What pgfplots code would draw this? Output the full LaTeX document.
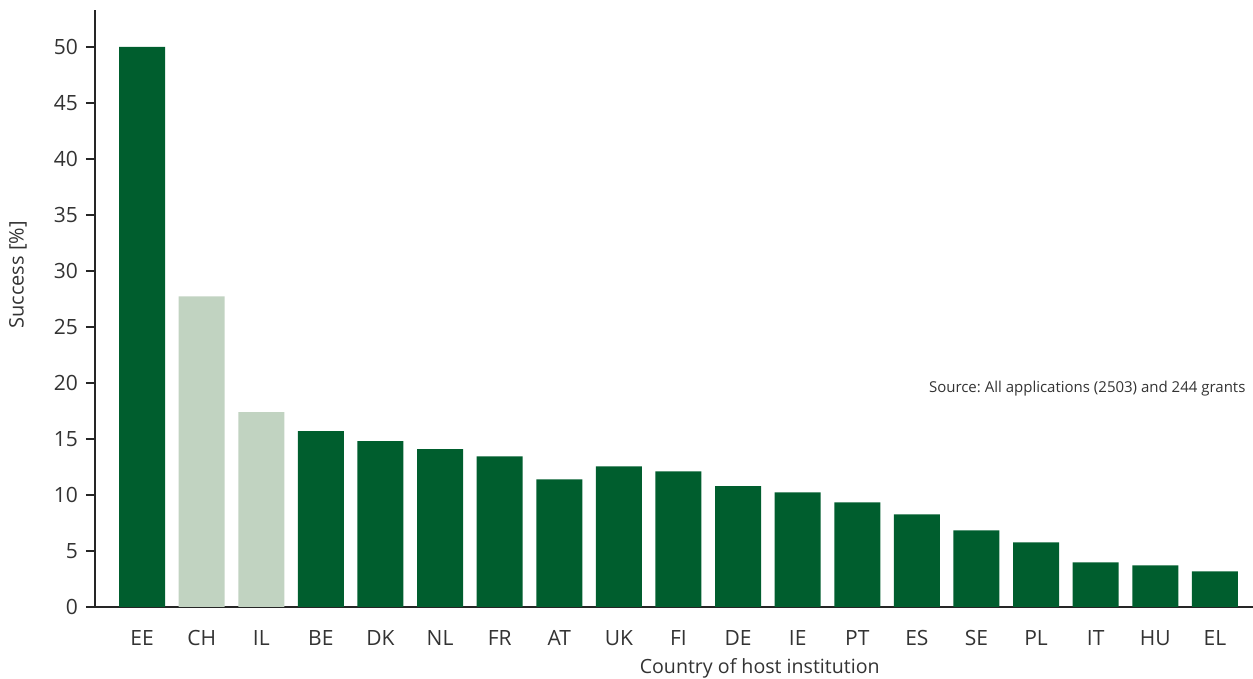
\documentclass[border=0pt]{standalone}
\usepackage{fontspec}
\setmainfont{Open Sans}
\usepackage{pgfplots}
\pgfplotsset{compat=1.18}
\definecolor{dkgreen}{HTML}{005E2E}
\definecolor{ltgreen}{HTML}{C1D3C1}
\definecolor{txt}{HTML}{333333}
\frenchspacing
\begin{document}
\begin{tikzpicture}
\begin{axis}[
  at={(0pt,0pt)}, anchor=south west,
  scale only axis,
  width=579pt, height=298.5pt,
  xmin=-0.79, xmax=18.64,
  ymin=0, ymax=53.3,
  axis lines*=left,
  axis line style={line width=1.3pt, color=black!85, -},
  ytick={0,5,...,50},
  xtick={0,...,18},
  xticklabels={EE,CH,IL,BE,DK,NL,FR,AT,UK,FI,DE,IE,PT,ES,SE,PL,IT,HU,EL},
  major x tick style={draw=none},
  ytick style={line width=0.7pt, color=black!85},
  tick align=outside,
  major tick length=4.5pt,
  /pgf/number format/assume math mode=true,
  tick label style={font=\fontsize{10.5}{12}\selectfont, color=txt},
  xticklabel style={yshift=-3.5pt},
  yticklabel style={xshift=-0.5pt},
  ylabel={Success [\%]},
  ylabel style={at={(axis description cs:-0.0665,0.556)}, anchor=center, rotate=0, font=\fontsize{10}{12}\selectfont, color=txt},
  xlabel={Country of host institution},
  xlabel style={at={(axis description cs:0.574,0)}, anchor=center, yshift=-30.5pt, font=\fontsize{9.8}{12}\selectfont, color=txt},
  ybar, bar width=23pt, bar shift=0pt,
  clip=false,
]
\addplot[fill=dkgreen, draw=none] coordinates {
(0,50.0) (3,15.7) (4,14.8) (5,14.1) (6,13.45) (7,11.4) (8,12.56) (9,12.1)
(10,10.8) (11,10.24) (12,9.35) (13,8.28) (14,6.85) (15,5.78) (16,3.99) (17,3.72) (18,3.19)};
\addplot[fill=ltgreen, draw=none] coordinates {(1,27.74) (2,17.4)};
\node[anchor=east, font=\fontsize{7.5}{9}\selectfont, color=txt] at (axis description cs:0.9995,0.365) {Source: All applications (2503) and 244 grants};
\end{axis}
\pgfresetboundingbox
\path[use as bounding box] (-47.5pt,-36pt) rectangle (579pt,303.5pt);
\end{tikzpicture}
\end{document}
